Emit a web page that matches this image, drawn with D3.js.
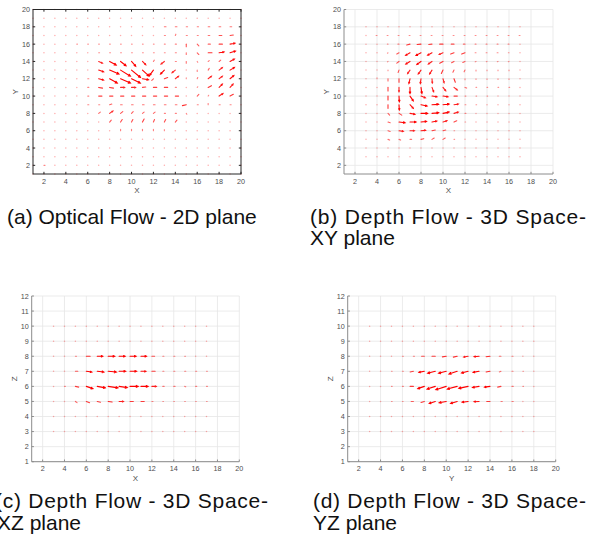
<!DOCTYPE html>
<html><head><meta charset="utf-8">
<script src="https://cdn.jsdelivr.net/npm/d3@7"></script>
<style>body{margin:0;background:#fff}svg{display:block}text{font-family:"Liberation Sans",Arial,Helvetica,sans-serif}</style>
</head><body>
<svg id="chart" width="604" height="538"></svg>
<script>
// ---------- DATA ----------
// Panel (a) Optical flow, grid X=1..20, rows Y=20..1
const aCols = [1,2,3,4,5,6,7,8,9,10,11,12,13,14,15,16,17,18,19,20];
const aRows = [20,19,18,17,16,15,14,13,12,11,10,9,8,7,6,5,4,3,2,1];
const aU = [
 [0,0,0,0,0,0,0,0,0,0,0,0,0,0,0,0,0,0,0,0],
 [0,0,0,0,0,0,0,0,0,0,0,0,0,0,0,0,0,0,0,0],
 [0,0,0,0,0,0,0,0,0,0,0,0,.15,.15,.12,.12,.15,.15,.15,0],
 [0,0,0,0,0,0,0,0,0,0,0,0,.1,.05,.1,.1,.15,.25,.3,0],
 [0,0,0,0,.06,.06,.06,.06,.06,.06,.06,.06,.08,.1,0,.15,.2,.3,.45,0],
 [0,0,0,0,0,0,.08,.08,.08,.08,.08,.08,.08,.1,0,.15,.35,.45,.5,0],
 [0,0,0,0,0,.05,.35,.6,.5,.38,.3,.08,-.3,.1,0,.05,.1,.15,.4,0],
 [0,0,0,0,0,.05,.45,.85,.9,.82,.6,-.35,-.35,-.3,.05,0,.1,.3,.4,0],
 [0,0,0,0,.05,.1,.45,.7,.9,.8,.55,-.15,.3,.3,0,.05,.3,.3,.35,0],
 [0,0,0,0,.05,.1,.35,.35,.37,.37,.3,.3,.3,.1,0,.05,.3,.3,.28,0],
 [0,0,0,0,.05,.1,.3,.3,.3,.3,.3,.3,.3,.3,0,.15,.05,.35,.3,0],
 [0,0,0,0,.05,.1,.1,.2,.15,.15,.15,.15,.15,.15,-.35,.1,0,.1,.1,0],
 [0,0,0,0,.05,.05,.15,.3,.2,.15,.15,.15,.1,.1,.05,.05,0,0,0,0],
 [0,0,0,0,0,0,.05,.15,.15,.12,.15,.1,.12,.15,.05,0,0,0,0,0],
 [0,0,0,0,0,0,0,0,0,0,0,0,0,0,0,0,0,0,0,0],
 [0,0,0,0,0,0,0,0,0,0,0,0,0,0,0,0,0,0,0,0],
 [0,0,0,0,0,0,0,0,0,0,0,0,0,0,0,0,0,0,0,0],
 [0,0,0,0,0,0,0,0,0,0,0,0,0,0,0,0,0,0,0,0],
 [0,.1,0,0,0,0,0,0,0,0,0,0,0,0,0,0,0,0,0,0],
 [0,0,0,0,0,0,0,0,0,0,0,0,0,0,0,0,0,0,0,0]
];
const aV = [
 [0,0,0,0,0,0,0,0,0,0,0,0,0,0,0,0,0,0,0,0],
 [0,0,0,0,0,0,0,0,0,0,0,0,0,0,0,0,0,0,0,0],
 [0,0,0,0,0,0,0,0,0,0,0,0,0,0,0,0,0,0,0,0],
 [0,0,0,0,0,0,0,0,0,0,0,0,0,.15,0,0,0,0,.05,0],
 [0,0,0,0,0,0,0,0,0,0,0,0,0,0,-.3,-.2,0,0,.1,0],
 [0,0,0,0,0,0,0,0,0,0,0,0,0,0,-.2,-.2,0,.1,.2,0],
 [0,0,0,0,0,0,-.2,-.42,-.5,-.55,-.38,.15,-.3,0,-.2,-.1,.1,.15,.28,0],
 [0,0,0,0,0,0,-.2,-.45,-.7,-.85,-.7,-.6,-.45,-.3,0,-.15,.2,.3,.3,0],
 [0,0,0,0,0,0,-.15,-.5,-.5,-.5,-.12,-.2,.15,.3,.1,.15,.3,.3,.38,0],
 [0,0,0,0,0,0,-.08,-.08,0,0,.04,0,0,0,0,.08,.2,.38,.38,0],
 [0,0,0,0,0,0,0,0,0,0,0,0,0,0,0,.2,.1,.3,.2,0],
 [0,0,0,0,0,0,0,.08,0,0,0,0,0,0,-.1,0,.15,0,0,0],
 [0,0,0,0,0,0,.15,.27,.2,.2,.15,.15,0,0,-.1,0,0,0,0,0],
 [0,0,0,0,0,0,0,.23,.3,.3,.35,.3,.3,.23,0,0,0,0,0,0],
 [0,0,0,0,0,0,0,0,.15,.15,.15,.15,.12,0,0,0,0,0,0,0],
 [0,0,0,0,0,0,0,0,0,0,0,0,0,0,0,0,0,0,0,0],
 [0,0,0,0,0,0,0,0,0,0,0,0,0,0,0,0,0,0,0,0],
 [0,0,0,0,0,0,0,0,0,0,0,0,0,0,0,0,0,0,0,0],
 [0,0,0,0,0,0,0,0,0,0,0,0,0,0,0,0,0,0,0,0],
 [0,0,0,0,0,0,0,0,0,0,0,0,0,0,0,0,0,0,0,0]
];

// Panel (b) Depth flow XY, grid X=3..17, rows Y=18..3
const bCols = [3,4,5,6,7,8,9,10,11,12,13,14,15,16,17];
const bRows = [18,17,16,15,14,13,12,11,10,9,8,7,6,5,4,3];
const bU = [
 [0,0,0,0,0,0,0,0,0,0,0,0,0,0,0],
 [0,-.08,-.08,-.08,-.08,-.08,-.08,-.08,-.08,-.08,-.08,-.08,-.08,-.08,-.08],
 [0,0,-.06,-.1,-.3,-.35,-.3,-.3,-.25,-.15,-.08,-.08,-.08,-.08,-.04],
 [0,0,-.05,-.2,-.4,-.45,-.4,-.35,-.3,-.3,-.08,-.08,-.08,-.06,-.04],
 [0,0,-.05,-.2,-.38,-.38,-.33,-.3,-.22,-.2,-.08,-.06,-.06,-.06,0],
 [0,0,0,-.08,-.22,-.25,-.22,-.15,-.1,-.08,0,0,0,0,0],
 [0,0,0,0,-.1,-.06,.03,.1,.12,0,0,0,0,0,0],
 [0,0,0,0,0,.08,.15,.25,.3,.15,.06,.06,.06,.06,0],
 [0,0,0,.03,.3,.4,.45,.45,.3,.08,.06,.06,0,0,0],
 [0,0,0,.03,.3,.55,.6,.55,.4,.08,.06,0,0,0,0],
 [0,0,.15,.25,.45,.6,.6,.55,.4,.08,0,0,0,0,0],
 [0,0,.2,.55,.55,.5,.45,.36,.25,.06,0,0,0,0,0],
 [0,0,.2,.4,.4,.42,.3,.25,.06,0,0,0,0,0,0],
 [0,0,.15,.15,.15,.25,.2,.2,.06,0,0,0,0,0,0],
 [0,0,0,0,0,0,0,0,0,0,0,0,0,0,0],
 [0,0,0,0,0,0,0,0,0,0,0,0,0,0,0]
];
const bV = [
 [0,0,0,0,0,0,0,0,0,0,0,0,0,0,0],
 [0,0,0,0,0,0,0,0,0,0,0,0,0,0,0],
 [0,0,0,0,-.1,-.05,-.04,0,0,0,0,0,0,0,0],
 [0,0,-.05,-.15,-.3,-.3,-.28,-.2,-.15,-.15,0,0,0,0,0],
 [0,0,-.05,-.2,-.3,-.35,-.3,-.2,-.15,-.12,-.05,-.04,-.04,-.04,0],
 [0,0,-.08,-.28,-.4,-.45,-.45,-.38,-.25,-.2,-.1,-.08,-.08,-.08,0],
 [0,.1,-.25,-.4,-.55,-.55,-.5,-.45,-.4,-.1,-.08,-.08,-.08,-.08,0],
 [0,0,-.4,-.5,-.7,-.7,-.5,-.4,-.3,-.08,0,0,0,0,0],
 [0,0,-.45,-.65,-.55,-.2,-.08,-.08,0,0,0,0,0,0,0],
 [0,0,-.42,-.6,-.42,-.15,.04,.08,.08,0,0,0,0,0,0],
 [0,0,-.2,-.2,-.1,0,.08,.15,.15,0,0,0,0,0,0],
 [0,0,-.08,-.08,0,.08,.12,.15,.15,0,0,0,0,0,0],
 [0,0,-.08,-.08,0,.04,.08,.08,0,0,0,0,0,0,0],
 [0,0,-.08,-.08,0,.08,.15,.15,0,0,0,0,0,0,0],
 [0,0,0,0,0,0,0,0,0,0,0,0,0,0,0],
 [0,0,0,0,0,0,0,0,0,0,0,0,0,0,0]
];

// Panel (c) Depth flow XZ, grid X=3..17, rows Z=10..3
const cCols = [3,4,5,6,7,8,9,10,11,12,13,14,15,16,17];
const cRows = [10,9,8,7,6,5,4,3];
const cU = [
 [0,0,0,0,0,0,0,0,0,0,0,0,0,0,0],
 [0,0,0,0,0,0,0,0,0,0,0,0,0,0,0],
 [0,0,.1,.35,.5,.6,.55,.55,.5,.25,.1,.1,.08,.05,0],
 [0,0,.22,.5,.6,.75,.6,.6,.45,.3,.1,.1,.1,.1,.08],
 [0,.08,.3,.6,.75,.9,.75,.75,.65,.4,.12,.12,.1,.1,.08],
 [0,0,.15,.3,.3,.36,.4,.3,.3,.1,.06,.06,.06,.06,.06],
 [0,0,0,0,0,0,0,0,0,0,0,0,0,0,0],
 [0,0,0,0,0,0,0,0,0,0,0,0,0,0,0]
];
const cV = [
 [0,0,0,0,0,0,0,0,0,0,0,0,0,0,0],
 [0,0,0,0,0,0,0,0,0,0,0,0,0,0,0],
 [0,0,0,0,0,0,0,0,0,0,0,0,0,0,0],
 [0,0,0,-.05,-.05,-.05,0,0,0,0,0,0,0,0,0],
 [0,0,-.05,-.15,-.1,-.1,-.08,0,0,0,0,0,-.03,0,0],
 [0,0,-.08,-.08,-.05,-.04,0,0,0,0,0,0,0,0,0],
 [0,0,0,0,0,0,0,0,0,0,0,0,0,0,0],
 [0,0,0,0,0,0,0,0,0,0,0,0,0,0,0]
];

// Panel (d) Depth flow YZ, grid Y=3..18, rows Z=10..3
const dCols = [3,4,5,6,7,8,9,10,11,12,13,14,15,16,17,18];
const dRows = [10,9,8,7,6,5,4,3];
const dU = [
 [0,0,0,0,0,0,0,0,0,0,0,0,0,0,0,0],
 [0,0,0,0,0,0,0,0,0,0,0,0,0,0,0,0],
 [0,0,.05,.08,.1,-.25,-.3,-.35,-.35,-.4,-.45,-.36,-.15,.1,.04,.04],
 [0,.05,.06,.08,-.3,-.5,-.7,-.7,-.75,-.6,-.55,-.36,-.15,.1,.06,.04],
 [0,.05,.06,.08,-.3,-.6,-.75,-.95,-.9,-.85,-.6,-.5,-.3,.12,.06,.04],
 [0,0,.06,.06,-.2,-.3,-.55,-.65,-.6,-.55,-.45,-.3,.12,.12,.04,0],
 [0,0,0,0,0,0,0,0,0,0,0,0,0,0,0,0],
 [0,0,0,0,0,0,0,0,0,0,0,0,0,0,0,0]
];
const dV = [
 [0,0,0,0,0,0,0,0,0,0,0,0,0,0,0,0],
 [0,0,0,0,0,0,0,0,0,0,0,0,0,0,0,0],
 [0,0,0,0,0,0,0,-.04,-.06,-.05,-.03,-.03,0,0,0,0],
 [0,0,0,0,-.04,-.07,-.13,-.13,-.18,-.11,-.07,-.04,-.04,0,0,0],
 [0,0,0,0,0,-.15,-.18,-.22,-.18,-.13,-.07,-.05,-.05,0,0,0],
 [0,0,0,0,0,-.07,-.13,-.09,-.13,-.05,-.02,0,0,0,0,0],
 [0,0,0,0,0,0,0,0,0,0,0,0,0,0,0,0],
 [0,0,0,0,0,0,0,0,0,0,0,0,0,0,0,0]
];

const ticks20 = [2,4,6,8,10,12,14,16,18,20];
const ticks12 = [1,2,3,4,5,6,7,8,9,10,11,12];

// ---------- DRAW ----------
const svg = d3.select("#chart");

function panel(o){
  const g = svg.append("g");
  const x = d3.scaleLinear().domain(o.xd).range([o.l,o.r]);
  const y = d3.scaleLinear().domain(o.yd).range([o.b,o.t]);
  const tl = 2.2;
  if(o.grid){
    g.append("g").selectAll("line").data(o.xt).join("line")
      .attr("x1",d=>x(d)).attr("x2",d=>x(d)).attr("y1",o.t).attr("y2",o.b)
      .attr("stroke","#e6e6e6").attr("stroke-width",0.8);
    g.append("g").selectAll("line").data(o.yt).join("line")
      .attr("y1",d=>y(d)).attr("y2",d=>y(d)).attr("x1",o.l).attr("x2",o.r)
      .attr("stroke","#e6e6e6").attr("stroke-width",0.8);
  }
  const pts=[];
  o.rows.forEach((ry,i)=>o.cols.forEach((cx,j)=>pts.push({x:cx,y:ry,u:o.U[i][j],v:o.V[i][j]})));
  const ag = g.append("g");
  pts.forEach(p=>{
    const x0=x(p.x), y0=y(p.y), x1=x(p.x+p.u), y1=y(p.y+p.v);
    const L=Math.hypot(x1-x0,y1-y0);
    if(L<0.6){
      ag.append("circle").attr("cx",x0).attr("cy",y0).attr("r",0.75)
        .attr("fill","#ff0000").attr("fill-opacity",0.32);
      return;
    }
    const op=Math.min(1,0.35+L*0.12);
    let d=`M${x0},${y0}L${x1},${y1}`;
    if(L>4){
      const a=Math.atan2(y1-y0,x1-x0), h=Math.min(2.2,0.28*L), s=0.45;
      d+=`M${x1-h*Math.cos(a-s)},${y1-h*Math.sin(a-s)}L${x1},${y1}L${x1-h*Math.cos(a+s)},${y1-h*Math.sin(a+s)}`;
    }
    ag.append("path").attr("d",d).attr("fill","none").attr("stroke","#ff0000")
      .attr("stroke-opacity",op).attr("stroke-width",1.1).attr("stroke-linecap","round");
  });
  const ac = o.grid ? "#8c8c8c" : "#262626";
  const ax = g.append("g");
  if(o.box){
    ax.append("rect").attr("x",o.l).attr("y",o.t).attr("width",o.r-o.l).attr("height",o.b-o.t)
      .attr("fill","none").attr("stroke",ac).attr("stroke-width",1);
  } else {
    ax.append("line").attr("x1",o.l).attr("x2",o.r).attr("y1",o.b).attr("y2",o.b).attr("stroke",ac);
    ax.append("line").attr("x1",o.l).attr("x2",o.l).attr("y1",o.t).attr("y2",o.b).attr("stroke",ac);
  }
  o.xt.forEach(t=>{
    ax.append("line").attr("x1",x(t)).attr("x2",x(t)).attr("y1",o.b).attr("y2",o.b-tl).attr("stroke",ac);
    if(o.box) ax.append("line").attr("x1",x(t)).attr("x2",x(t)).attr("y1",o.t).attr("y2",o.t+tl).attr("stroke",ac);
    ax.append("text").attr("x",x(t)).attr("y",o.b+9.5).attr("text-anchor","middle")
      .attr("font-size",7.2).attr("fill","#4d4d4d").text(t);
  });
  o.yt.forEach(t=>{
    ax.append("line").attr("x1",o.l).attr("x2",o.l+tl).attr("y1",y(t)).attr("y2",y(t)).attr("stroke",ac);
    if(o.box) ax.append("line").attr("x1",o.r).attr("x2",o.r-tl).attr("y1",y(t)).attr("y2",y(t)).attr("stroke",ac);
    ax.append("text").attr("x",o.l-3).attr("y",y(t)+2.5).attr("text-anchor","end")
      .attr("font-size",7.2).attr("fill","#4d4d4d").text(t);
  });
  ax.append("text").attr("x",(o.l+o.r)/2).attr("y",o.b+19).attr("text-anchor","middle")
    .attr("font-size",8).attr("fill","#4d4d4d").text(o.xl);
  ax.append("text").attr("transform",`translate(${o.l-15},${(o.t+o.b)/2}) rotate(-90)`)
    .attr("text-anchor","middle").attr("font-size",8).attr("fill","#4d4d4d").text(o.yl);
}

panel({l:33,r:241,t:9.5,b:174,xd:[1,20],yd:[1,20],xt:ticks20,yt:ticks20,cols:aCols,rows:aRows,U:aU,V:aV,xl:"X",yl:"Y",box:true,grid:false});
panel({l:344,r:553,t:9.5,b:174,xd:[1,20],yd:[1,20],xt:ticks20,yt:ticks20,cols:bCols,rows:bRows,U:bU,V:bV,xl:"X",yl:"Y",box:false,grid:true});
panel({l:31.7,r:239.3,t:296,b:461.7,xd:[1,20],yd:[1,12],xt:ticks20,yt:ticks12,cols:cCols,rows:cRows,U:cU,V:cV,xl:"X",yl:"Z",box:false,grid:true});
panel({l:347.7,r:555.7,t:296,b:461.7,xd:[1,20],yd:[1,12],xt:ticks20,yt:ticks12,cols:dCols,rows:dRows,U:dU,V:dV,xl:"Y",yl:"Z",box:false,grid:true});

// captions (panel (c) is clipped at the left edge, as in the reference)
const caps = [
 {x:7,y:223.5,t:"(a) Optical Flow - 2D plane",w:null},
 {x:310,y:223.5,t:"(b) Depth Flow - 3D Space-",w:276},
 {x:310,y:245,t:"XY plane",w:null},
 {x:-5,y:508.3,t:"(c) Depth Flow - 3D Space-",w:273},
 {x:-3,y:530,t:"XZ plane",w:null},
 {x:313,y:508.3,t:"(d) Depth Flow - 3D Space-",w:273},
 {x:313,y:530,t:"YZ plane",w:null}
];
caps.forEach(c=>{
  const t=svg.append("text").attr("x",c.x).attr("y",c.y).attr("font-size",21).attr("fill","#111").text(c.t);
  if(c.w) t.attr("textLength",c.w).attr("lengthAdjust","spacing");
});
</script>
</body></html>
